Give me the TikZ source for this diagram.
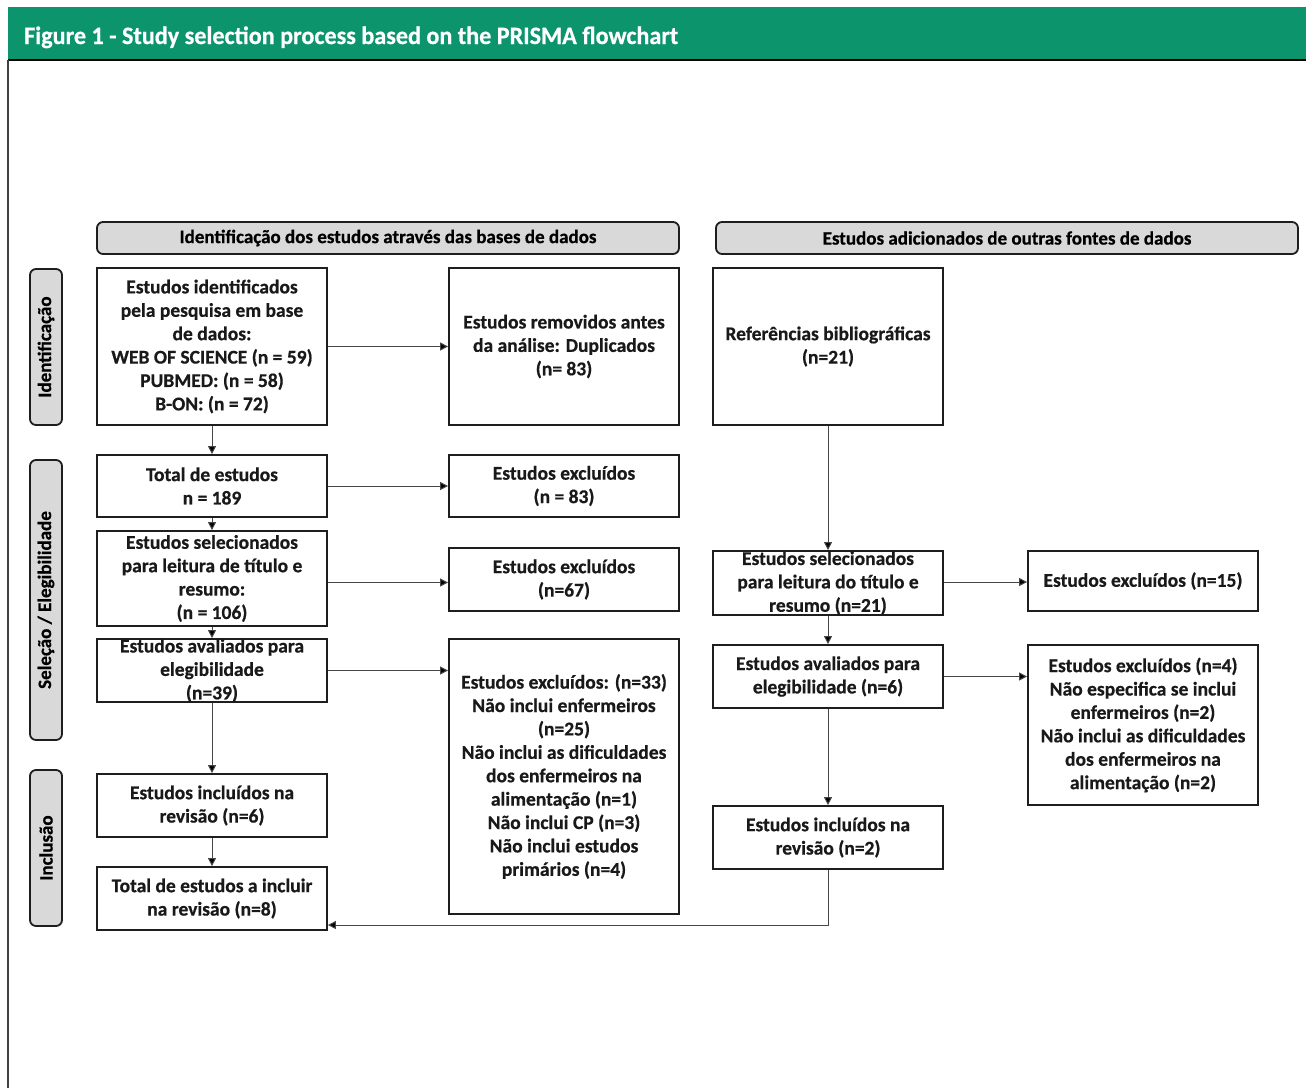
\documentclass[tikz,border=0pt]{standalone}
\usepackage{fontspec}
\setmainfont{Carlito}[BoldFont={Carlito Bold},BoldFeatures={FakeBold=0.6}]
\usetikzlibrary{arrows.meta,calc}
\definecolor{hdrgreen}{RGB}{12,148,109}
\definecolor{boxgray}{RGB}{217,217,217}
\definecolor{edge}{RGB}{30,30,30}
\definecolor{conncol}{RGB}{70,70,70}
\newsavebox\headbox
\sbox\headbox{\color{white}\fontsize{25}{30}\selectfont\bfseries Figure 1 - Study selection process based on the PRISMA flowchart}
\newcommand\bx[6]{%
  \node[box,minimum width={#4-#2},minimum height={#5-#3}] (#1) at ({(#2+#4)/2},{(#3+#5)/2}) {};
  \node[txt] at (#1.center) {#6};}
\tikzset{
  box/.style={draw=edge,line width=1.8pt,fill=white,inner sep=0pt},
  txt/.style={align=center,inner sep=0pt,font=\bfseries\fontsize{19.5}{23.4}\selectfont,text=black!90},
  hbar/.style={draw=edge,line width=1.8pt,fill=boxgray,rounded corners=6pt,inner sep=0pt,
     font=\bfseries\fontsize{19}{22}\selectfont},
  side/.style={draw=edge,line width=1.8pt,fill=boxgray,rounded corners=6pt,inner sep=0pt,rotate=90,
     font=\bfseries\fontsize{19}{22}\selectfont},
  conn/.style={draw=conncol,line width=1pt,-{Triangle[length=8pt,width=8pt,fill=black]}},
  plain/.style={draw=conncol,line width=1pt}
}
\begin{document}
\begin{tikzpicture}[x=1pt,y=-1pt]
\useasboundingbox (0,0) rectangle (1306,1088);
% header
\fill[hdrgreen] (8,7) rectangle (1306,60);
\pgfmathsetmacro\hsx{654/\wd\headbox}
\node[anchor=base west,inner sep=0pt,text=white] (title) at (24,44) {\scalebox{\hsx}[1]{\usebox\headbox}};
\draw[line width=2pt,black] (8,60) -- (1306,60);
\draw[line width=2pt,black!75] (8,60) -- (8,1088);
% column headers
\node[hbar,minimum width=582,minimum height=32] (hl) at (388,238) {Identificação dos estudos através das bases de dados};
\node[hbar,minimum width=582,minimum height=32] (hr) at (1007,238) {Estudos adicionados de outras fontes de dados};
% side labels
\node[side,minimum width=156,minimum height=32] (s1) at (46,347) {Identificação};
\node[side,minimum width=280,minimum height=32] (s2) at (46,600) {Seleção / Elegibilidade};
\node[side,minimum width=156,minimum height=32] (s3) at (46,848) {Inclusão};
% left column
\bx{a1}{97}{268}{327}{425}{Estudos identificados\\pela pesquisa em base\\de dados:\\WEB OF SCIENCE (n = 59)\\PUBMED: (n = 58)\\B-ON: (n = 72)}
\bx{b1}{97}{455}{327}{517}{Total de estudos\\n = 189}
\bx{c1}{97}{531}{327}{626}{Estudos selecionados\\para leitura de título e\\resumo:\\(n = 106)}
\bx{d1}{97}{639}{327}{702}{Estudos avaliados para\\elegibilidade\\(n=39)}
\bx{e1}{97}{774}{327}{837}{Estudos incluídos na\\revisão (n=6)}
\bx{f1}{97}{867}{327}{930}{Total de estudos a incluir\\na revisão (n=8)}
% middle column
\bx{a2}{449}{268}{679}{425}{Estudos removidos antes\\da análise: Duplicados\\(n= 83)}
\bx{b2}{449}{455}{679}{517}{Estudos excluídos\\(n = 83)}
\bx{c2}{449}{548}{679}{611}{Estudos excluídos\\(n=67)}
\bx{d2}{449}{639}{679}{914}{Estudos excluídos: (n=33)\\Não inclui enfermeiros\\(n=25)\\Não inclui as dificuldades\\dos enfermeiros na\\alimentação (n=1)\\Não inclui CP (n=3)\\Não inclui estudos\\primários (n=4)}
% right columns
\bx{r1}{713}{268}{943}{425}{Referências bibliográficas\\(n=21)}
\bx{r2}{713}{551}{943}{615}{Estudos selecionados\\para leitura do título e\\resumo (n=21)}
\bx{r3}{713}{645}{943}{708}{Estudos avaliados para\\elegibilidade (n=6)}
\bx{r4}{713}{806}{943}{869}{Estudos incluídos na\\revisão (n=2)}
\bx{r2x}{1028}{551}{1258}{611}{Estudos excluídos (n=15)}
\bx{r3x}{1028}{645}{1258}{805}{Estudos excluídos (n=4)\\Não especifica se inclui\\enfermeiros (n=2)\\Não inclui as dificuldades\\dos enfermeiros na\\alimentação (n=2)}
% connectors
\draw[conn] (a1.east) -- (a1.east -| a2.west);
\draw[conn] (a1.south) -- (b1.north);
\draw[conn] (b1.east) -- (b1.east -| b2.west);
\draw[conn] (b1.south) -- (c1.north);
\draw[conn] ($(c1.east)+(0,4)$) -- ($(c1.east -| c2.west)+(0,4)$);
\draw[conn] (c1.south) -- (d1.north);
\draw[conn] (d1.east) -- (d1.east -| d2.west);
\draw[conn] (d1.south) -- (e1.north);
\draw[conn] (e1.south) -- (f1.north);
\draw[conn] (r1.south) -- (r2.north);
\draw[conn] ($(r2.east)+(0,-1)$) -- ($(r2.east -| r2x.west)+(0,-1)$);
\draw[conn] (r2.south) -- (r3.north);
\draw[conn] (r3.east) -- (r3.east -| r3x.west);
\draw[conn] (r3.south) -- (r4.north);
\coordinate (bend) at (828,925);
\draw[conn] (r4.south) -- (bend) -- (bend -| f1.east);
\end{tikzpicture}
\end{document}
